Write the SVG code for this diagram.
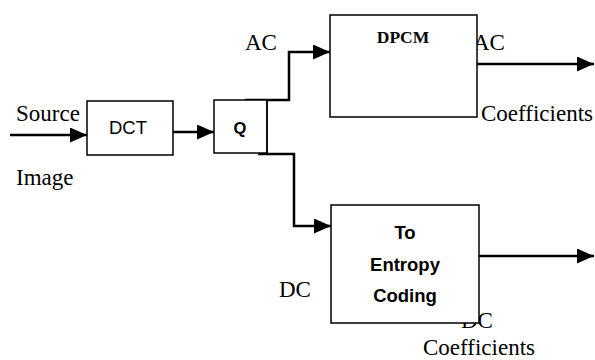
<svg xmlns="http://www.w3.org/2000/svg" width="595" height="360" viewBox="0 0 595 360">
<defs>
<marker id="ah" markerUnits="userSpaceOnUse" markerWidth="17" markerHeight="15" refX="17" refY="7.5" orient="auto">
<path d="M0,0 L17,7.5 L0,15 z" fill="#000"/>
</marker>
<style>
.box{fill:#fff;stroke:#000;stroke-width:1.5}
.con{fill:none;stroke:#000;stroke-width:2.5}
.serif{font-family:"Liberation Serif","Times New Roman",serif;font-size:23px;fill:#000}
.sans{font-family:"Liberation Sans",Arial,sans-serif;fill:#000}
</style>
</defs>
<rect width="595" height="360" fill="#fff"/>
<text class="serif" x="16" y="121">Source</text>
<text class="serif" x="16" y="185">Image</text>
<text class="serif" x="245" y="50">AC</text>
<text class="serif" x="473" y="50">AC</text>
<text class="serif" x="481" y="121">Coefficients</text>
<text class="serif" x="279" y="297">DC</text>
<text class="serif" x="461" y="328">DC</text>
<text class="serif" x="423" y="355">Coefficients</text>
<g id="connectors">
<line class="con" x1="10" y1="135" x2="87" y2="135" marker-end="url(#ah)"/>
<line class="con" x1="173" y1="132" x2="214" y2="132" marker-end="url(#ah)"/>
<path class="con" d="M245,100 H289 V52 H330" marker-end="url(#ah)"/>
<path class="con" d="M258,154 H294 V226 H331" marker-end="url(#ah)"/>
<line class="con" x1="477" y1="64" x2="594" y2="64" marker-end="url(#ah)"/>
<line class="con" x1="479" y1="256" x2="594" y2="256" marker-end="url(#ah)"/>
</g>
<g id="dct">
<rect class="box" x="87" y="101" width="86" height="54"/>
<text class="sans" x="128" y="134" font-size="18.5" text-anchor="middle">DCT</text>
</g>
<g id="q">
<rect class="box" x="214" y="100" width="53" height="53"/>
<line x1="267" y1="100" x2="267" y2="155" stroke="#000" stroke-width="1.5"/>
<text class="sans" x="240" y="134" font-size="16.5" font-weight="bold" text-anchor="middle">Q</text>
</g>
<g id="dpcm">
<rect class="box" x="330" y="15" width="147" height="102"/>
<text x="403" y="43" font-family="Liberation Serif,serif" font-size="17.5" font-weight="bold" text-anchor="middle">DPCM</text>
</g>
<g id="entropy">
<rect class="box" x="331" y="205" width="148" height="118"/>
<text class="sans" font-size="18.5" font-weight="bold" text-anchor="middle"><tspan x="405" y="239">To</tspan><tspan x="405" y="271">Entropy</tspan><tspan x="405" y="302">Coding</tspan></text>
</g>
</svg>
